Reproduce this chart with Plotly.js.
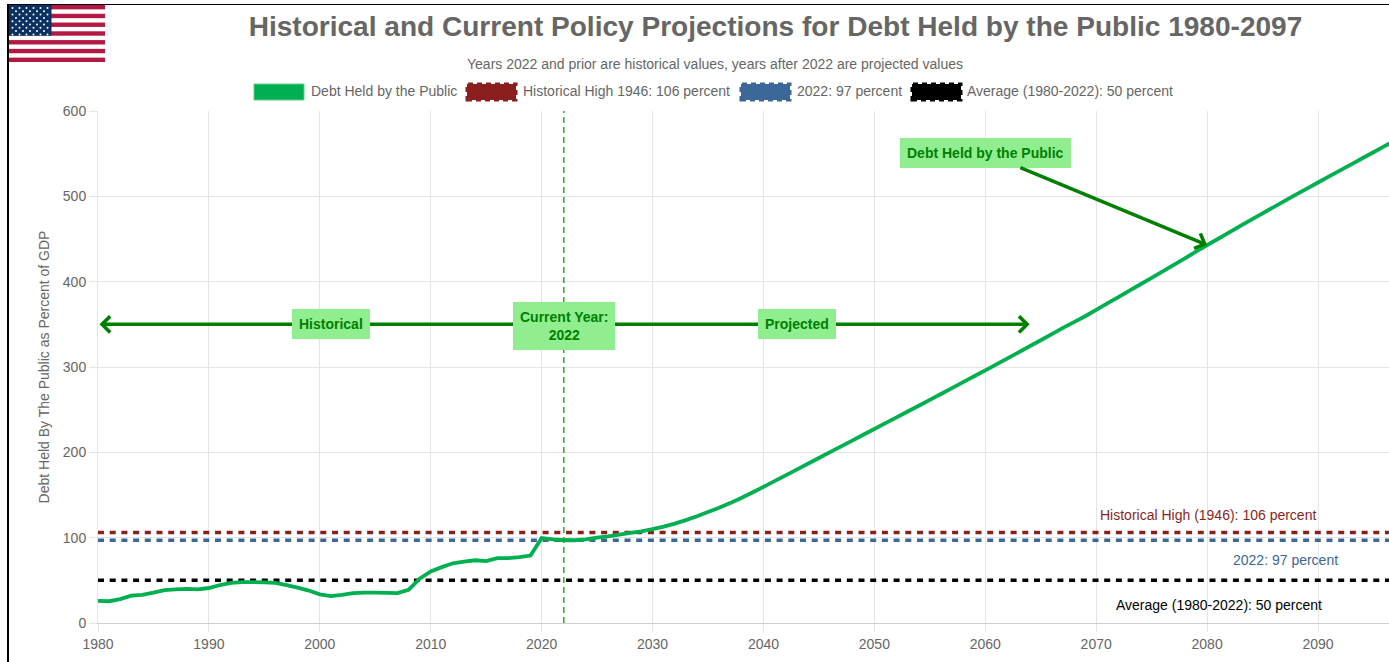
<!DOCTYPE html>
<html>
<head>
<meta charset="utf-8">
<script src="https://cdn.plot.ly/plotly-3.0.1.min.js"></script>
<style>
html,body{margin:0;padding:0;background:#fff;overflow:hidden;width:1389px;height:662px}
#chart{position:absolute;left:0;top:0;width:1389px;height:662px}
#frameL{position:absolute;left:7px;top:4px;width:2px;height:658px;background:#000}
#frameT{position:absolute;left:7px;top:4px;width:1382px;height:1px;background:#000}
</style>
</head>
<body>
<div id="chart"></div>
<div id="frameL"></div>
<div id="frameT"></div>
<script>
const years = [1980,1981,1982,1983,1984,1985,1986,1987,1988,1989,1990,1991,1992,1993,1994,1995,1996,1997,1998,1999,
2000,2001,2002,2003,2004,2005,2006,2007,2008,2009,2010,2011,2012,2013,2014,2015,2016,2017,2018,2019,
2020,2021,2022,2023,2024,2025,2026,2027,2028,2029,2030,2031,2032,2033,2034,2035,2036,2037,2038,2039,
2040,2041,2042,2043,2044,2045,2046,2047,2048,2049,2050,2051,2052,2053,2054,2055,2056,2057,2058,2059,
2060,2061,2062,2063,2064,2065,2066,2067,2068,2069,2070,2071,2072,2073,2074,2075,2076,2077,2078,2079,
2080,2081,2082,2083,2084,2085,2086,2087,2088,2089,2090,2091,2092,2093,2094,2095,2096,2097];
const debtHeld = [26,25.5,28,32,33,35.5,38.5,39.5,40,39.5,41,44.5,47,48,48,47.5,47,44.5,41.5,38,
33.5,31.5,33,35,35.5,35.7,35.3,35,39,52,60.5,65.5,70,72,73.5,72.5,76,76,77.3,79,
99.5,98,97,97,98,100,101.5,103.5,105.5,107.5,110,113,116.5,120.5,125,130,135,140.5,146.5,153,
159.5,166.2,173,179.8,186.6,193.4,200.2,207,213.8,220.6,227.4,234.2,241,247.8,254.6,261.5,268.4,275.3,282.2,289.1,
296,303,310.1,317.2,324.3,331.4,338.6,345.8,352.6,359.5,367,374.5,382,389.6,397,404.5,412.2,419.8,427.4,435.2,
442.8,450.3,457.8,465.3,472.7,480.1,487.4,494.7,501.9,509.1,516.2,523.3,530.4,537.5,544.6,551.7,558.8,565.9];
const refYears = [1980,2097];
const historicalHigh = [106,106];
const current2022 = [97,97];
const average = [50,50];

const GREEN='#00b050', MAROON='#8b1f1e', BLUE='#3c6799', BLACK='#000000', ARROW='#008000', BOX='#90ee90', GREY='#666666';
const FONT='"Liberation Sans", Arial, sans-serif';
const W=1389,H=662,L=98,T=111,B=623;
const px=v=>(v-L)/(W-L), py=v=>(B-v)/(B-T);

function flag(){
  let s='<svg xmlns="http://www.w3.org/2000/svg" width="96" height="57" viewBox="0 0 96 57" preserveAspectRatio="none"><rect width="96" height="57" fill="#fff"/>';
  const h=57/13;
  for(let i=0;i<13;i+=2) s+=`<rect y="${(i*h).toFixed(2)}" width="96" height="${h.toFixed(2)}" fill="#b31942"/>`;
  s+=`<rect width="42.5" height="${(7*h).toFixed(2)}" fill="#0a3161"/>`;
  for(let r=0;r<9;r++){
    const n=r%2?5:6;
    for(let c=0;c<n;c++){
      const x=(r%2?7:3.5)+c*7, y=3+r*3.3;
      s+=`<circle cx="${x}" cy="${y.toFixed(1)}" r="1" fill="#fff"/>`;
    }
  }
  return 'data:image/svg+xml;utf8,'+encodeURIComponent(s+'</svg>');
}

const refLine=(y,c)=>({x:refYears,y:y,mode:'lines',line:{color:c,width:3.5,dash:'6px,5.7px'},hoverinfo:'skip',showlegend:false});
const traces=[
  refLine(historicalHigh,MAROON),
  refLine(current2022,BLUE),
  refLine(average,BLACK),
  {x:years,y:debtHeld,mode:'lines',name:'Debt Held by the Public',line:{color:GREEN,width:3.8,simplify:false},showlegend:false}
];

const legendItems=[
  {label:'Debt Held by the Public',x0:254,x1:304,color:GREEN,dash:'solid',lw:1,tx:308.5},
  {label:'Historical High 1946: 106 percent',x0:467,x1:516,color:MAROON,dash:'5px,4px',lw:3,tx:521},
  {label:'2022: 97 percent',x0:741,x1:790,color:BLUE,dash:'5px,4px',lw:3,tx:794.5},
  {label:'Average (1980-2022): 50 percent',x0:912,x1:961,color:BLACK,dash:'5px,4px',lw:3,tx:965}
];

const shapes=[{type:'line',xref:'x',yref:'paper',x0:2022,x1:2022,y0:0,y1:1,layer:'above',line:{color:'#22a022',width:1.4,dash:'6px,4px'}}];
const annotations=[];
legendItems.forEach(it=>{
  shapes.push({type:'rect',xref:'paper',yref:'paper',x0:px(it.x0),x1:px(it.x1),y0:py(100),y1:py(84),fillcolor:it.color,
    line:{color:it.dash==='solid'?'#5fd08c':it.color,width:it.lw,dash:it.dash}});
  annotations.push({xref:'paper',yref:'paper',x:px(it.tx),y:py(91.4),xanchor:'left',yanchor:'middle',showarrow:false,text:it.label,font:{family:FONT,size:14,color:GREY}});
});
annotations.push({xref:'paper',yref:'paper',x:px(714.5),y:py(64),xanchor:'center',yanchor:'middle',showarrow:false,
  text:'Years 2022 and prior are historical values, years after 2022 are projected values',font:{family:FONT,size:14,color:GREY}});
annotations.push({x:2064,y:350,ax:1980,ay:350,axref:'x',ayref:'y',xref:'x',yref:'y',text:'',showarrow:true,arrowside:'end+start',arrowhead:4,arrowsize:0.9,arrowwidth:3.5,arrowcolor:ARROW});
const boxFont={family:FONT,size:14,color:ARROW,weight:'bold'};
[['Historical',2001,350],['Current Year:<br>2022',2022,348],['Projected',2043,350]].forEach(b=>{
  annotations.push({x:b[1],y:b[2],xref:'x',yref:'y',text:'<b>'+b[0]+'</b>',showarrow:false,bgcolor:BOX,bordercolor:BOX,borderwidth:1,borderpad:6,font:boxFont,xanchor:'center',yanchor:'middle'});
});
annotations.push({x:2080,y:443,ax:2060,ay:550.5,axref:'x',ayref:'y',xref:'x',yref:'y',text:'<b>Debt Held by the Public</b>',showarrow:true,arrowhead:4,arrowsize:0.9,arrowwidth:3.5,arrowcolor:ARROW,bgcolor:BOX,bordercolor:BOX,borderwidth:1,borderpad:6,font:boxFont});
[['Historical High (1946): 106 percent',2080.1,126.5,MAROON],['2022: 97 percent',2087.1,74,BLUE],['Average (1980-2022): 50 percent',2081.1,21,BLACK]].forEach(l=>{
  annotations.push({x:l[1],y:l[2],xref:'x',yref:'y',text:l[0],showarrow:false,font:{family:FONT,size:14,color:l[3]},xanchor:'center',yanchor:'middle'});
});

const layout={
  width:W,height:H,paper_bgcolor:'#fff',plot_bgcolor:'#fff',showlegend:false,
  margin:{l:L,r:0,t:T,b:H-B,pad:0},
  font:{family:FONT,size:14,color:GREY},
  title:{text:'<b>Historical and Current Policy Projections for Debt Held by the Public 1980-2097</b>',font:{family:FONT,size:28.05,color:GREY},x:775.5/W,xanchor:'center',y:1-26/H,yanchor:'middle'},
  xaxis:{range:[1980,2096.4],tick0:1980,dtick:10,showgrid:true,gridcolor:'#e5e5e5',gridwidth:1,zeroline:false,ticks:'outside',ticklen:8,tickcolor:'#e5e5e5',showline:true,linecolor:'#cfcfcf',linewidth:1,tickfont:{family:FONT,size:14,color:GREY},fixedrange:true},
  yaxis:{range:[0,600],dtick:100,showgrid:true,gridcolor:'#e5e5e5',gridwidth:1,zeroline:false,ticks:'outside',ticklen:8,tickcolor:'#e5e5e5',showline:true,linecolor:'#e5e5e5',linewidth:1,tickfont:{family:FONT,size:14,color:GREY},fixedrange:true,
    title:{text:'Debt Held By The Public as Percent of GDP',font:{family:FONT,size:14,color:GREY},standoff:9}},
  shapes:shapes,annotations:annotations,
  images:[{source:flag(),xref:'paper',yref:'paper',x:px(9),y:py(5),sizex:96/(W-L),sizey:57/(B-T),xanchor:'left',yanchor:'top',sizing:'stretch',layer:'above'}]
};
Plotly.newPlot('chart',traces,layout,{displayModeBar:false,responsive:false});
</script>
</body>
</html>
